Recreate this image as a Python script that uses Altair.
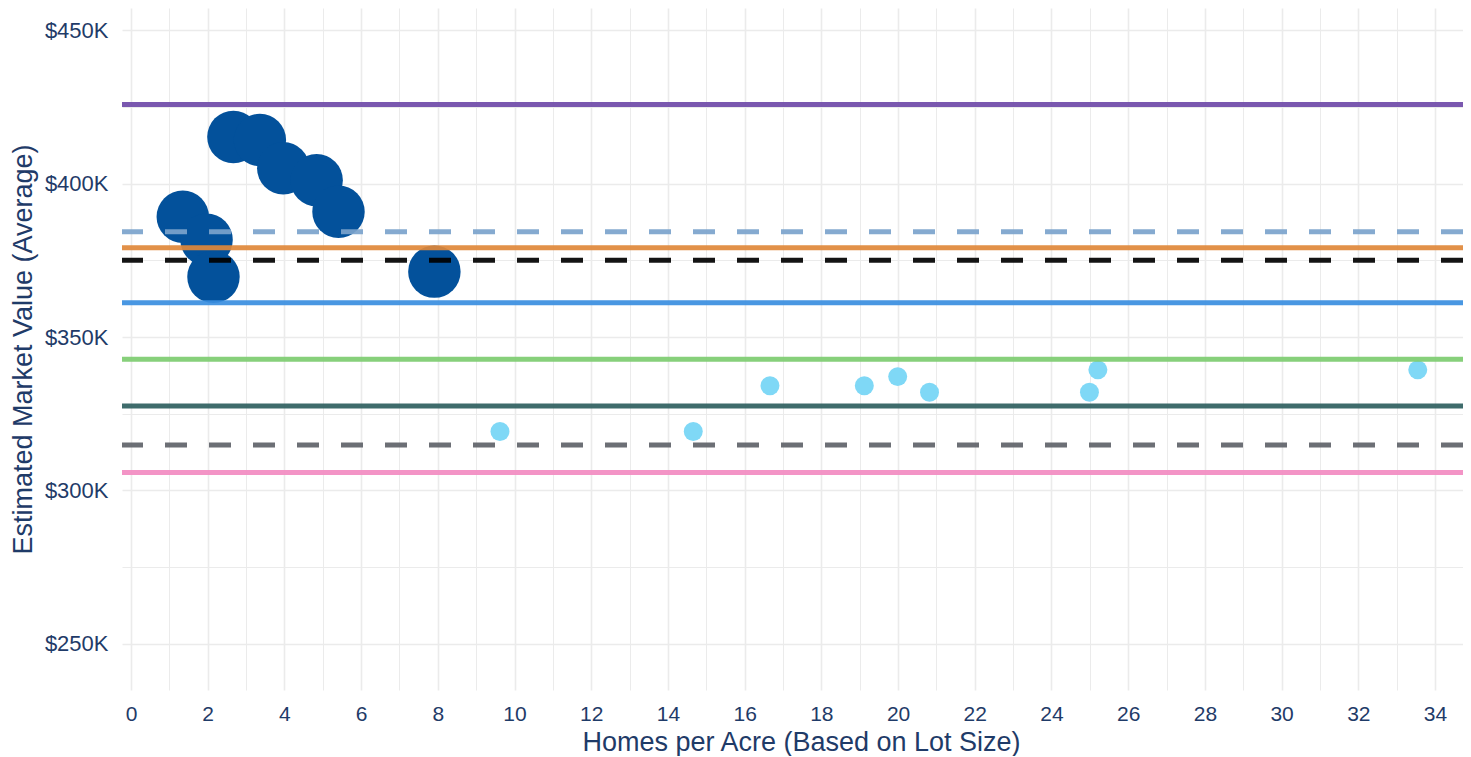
import altair as alt
import pandas as pd

# ---- data ----
big_x = [1.35, 1.97, 2.15, 2.67, 3.36, 3.97, 4.84, 5.41, 7.91]
big_y = [389.2, 381.7, 369.6, 415.2, 414.2, 405.0, 401.1, 390.8, 371.3]
small_x = [9.62, 14.66, 16.66, 19.12, 19.99, 20.82, 24.99, 25.21, 33.55]
small_y = [319.2, 319.2, 334.1, 334.1, 337.1, 332.0, 332.0, 339.3, 339.3]
groups = ["Low density", "High density"]

ref_names = ["Ref 1", "Ref 2", "Ref 3", "Ref 4", "Ref 5", "Ref 6", "Ref 7", "Ref 8", "Ref 9"]
ref_values = [425.8, 384.3, 379.1, 375.0, 361.2, 342.8, 327.5, 314.8, 305.9]
ref_types = ["solid", "dashed", "solid", "dashed", "solid", "solid", "solid", "dashed", "solid"]

# ---- styles ----
ref_palette = ["#6f4aa8", "#7ba3cc", "#e0883a", "#000000", "#3a8ee0",
               "#7dcc70", "#2f5f60", "#5f6369", "#f28bc1"]
point_palette = ["#03519b", "#7fd8f6"]
point_sizes = [2750, 360]
text_color = "#1f3b68"
font = "Liberation Sans"

points = pd.DataFrame({
    "x": big_x + small_x,
    "y": big_y + small_y,
    "group": [groups[0]] * len(big_x) + [groups[1]] * len(small_x),
})
refs = pd.DataFrame({"name": ref_names, "value": ref_values, "type": ref_types})

x_scale = alt.Scale(domain=[-0.235, 34.73], nice=False, zero=False)
y_scale = alt.Scale(domain=[235.0, 457.2], nice=False, zero=False)

x_axis = alt.Axis(
    title="Homes per Acre (Based on Lot Size)",
    values=list(range(0, 35)),
    labelExpr="datum.value % 2 == 0 ? datum.label : ''",
    gridWidth={"condition": {"test": "datum.value % 2 == 0", "value": 1.6}, "value": 1.0},
    labelPadding=30, labelBaseline="alphabetic", labelFontSize=21,
    titleX=679, titleY=60, titleBaseline="alphabetic", titleAnchor="middle",
)
y_axis = alt.Axis(
    title="Estimated Market Value (Average)",
    values=[250, 275, 300, 325, 350, 375, 400, 425, 450],
    labelExpr="datum.value % 50 == 0 ? '$' + datum.value + 'K' : ''",
    gridWidth={"condition": {"test": "datum.value % 50 == 0", "value": 1.6}, "value": 1.0},
    labelPadding=14,
    titleX=-99, titleY=341, titleAngle=-90, titleBaseline="middle", titleAlign="center",
)

pts = alt.Chart(points).mark_circle(opacity=1, strokeWidth=0).encode(
    x=alt.X("x:Q", scale=x_scale, axis=x_axis),
    y=alt.Y("y:Q", scale=y_scale, axis=y_axis),
    color=alt.Color("group:N", scale=alt.Scale(domain=groups, range=point_palette), legend=None),
    size=alt.Size("group:N", scale=alt.Scale(domain=groups, range=point_sizes), legend=None),
)

rules = alt.Chart(refs).mark_rule(strokeWidth=5, opacity=0.92).encode(
    y=alt.Y("value:Q", scale=y_scale),
    color=alt.Color("name:N", scale=alt.Scale(domain=ref_names, range=ref_palette), legend=None),
    strokeDash=alt.StrokeDash("type:N", scale=alt.Scale(domain=["solid", "dashed"], range=[[1, 0], [22, 22]]), legend=None),
)

chart = alt.layer(pts, rules).resolve_scale(
    color="independent", size="independent"
).properties(
    width=1341, height=682,
    autosize=alt.AutoSizeParams(type="none"),
    padding={"left": 114, "top": 0, "right": 0, "bottom": 66},
    background="white",
).configure_view(stroke=None).configure_axis(
    domain=False, ticks=False, tickSize=0,
    gridColor="#ebebeb",
    labelFont=font, labelFontSize=22, labelColor=text_color,
    titleFont=font, titleFontSize=27, titleColor=text_color, titleFontWeight="normal",
)

chart.save("out.html", embed_options={"renderer": "svg", "actions": False})
